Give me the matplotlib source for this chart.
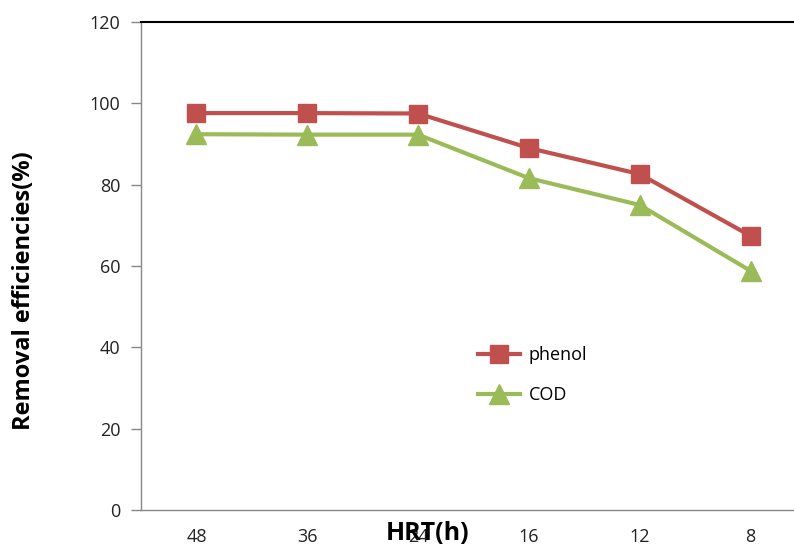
import matplotlib
matplotlib.use("Agg")
import matplotlib.pyplot as plt

hrt_labels = ["48", "36", "24", "16", "12", "8"]
phenol = [97.6, 97.6, 97.5, 89.0, 82.6, 67.4]
cod = [92.4, 92.3, 92.3, 81.6, 75.0, 58.8]

plt.rcParams["font.family"] = ["Open Sans", "DejaVu Sans"]

fig = plt.figure(figsize=(7.94, 5.46), dpi=100)
ax = fig.add_axes([141 / 794, 36 / 546, 665 / 794, 488 / 546])

x = list(range(len(hrt_labels)))
ax.plot(x, phenol, color="#C0504D", linewidth=3, marker="s", markersize=12.5,
        label="phenol")
ax.plot(x, cod, color="#9BBB59", linewidth=3, marker="^", markersize=14,
        label="COD")

ax.set_xlim(-0.5, 5.5)
ax.set_ylim(0, 120)
ax.set_yticks(range(0, 121, 20))
ax.set_xticks(x)
ax.set_xticklabels(hrt_labels)
ax.tick_params(axis="x", length=0, pad=13, labelsize=13, colors="#222222")
ax.tick_params(axis="y", length=7, width=1, color="#888888", pad=8,
               labelsize=13, labelcolor="#222222")

for side in ["left", "bottom"]:
    ax.spines[side].set_color("#888888")
    ax.spines[side].set_linewidth(1)
ax.spines["right"].set_visible(False)
ax.spines["top"].set_color("black")
ax.spines["top"].set_linewidth(1.5)

ax.set_ylabel("Removal efficiencies(%)", fontsize=17, fontweight="bold")
ax.yaxis.set_label_coords(-0.158, 0.45)
fig.text(428 / 794, 1 - 534 / 546, "HRT(h)", fontsize=18, fontweight="bold",
         ha="center", va="center")

ax.legend(loc="upper left", bbox_to_anchor=(462 / 794, 1 - 330 / 546),
          bbox_transform=fig.transFigure, frameon=False, fontsize=13,
          handlelength=2.3, labelspacing=1.2, handletextpad=0.5)

fig.savefig("out.png", dpi=100, facecolor="white")
